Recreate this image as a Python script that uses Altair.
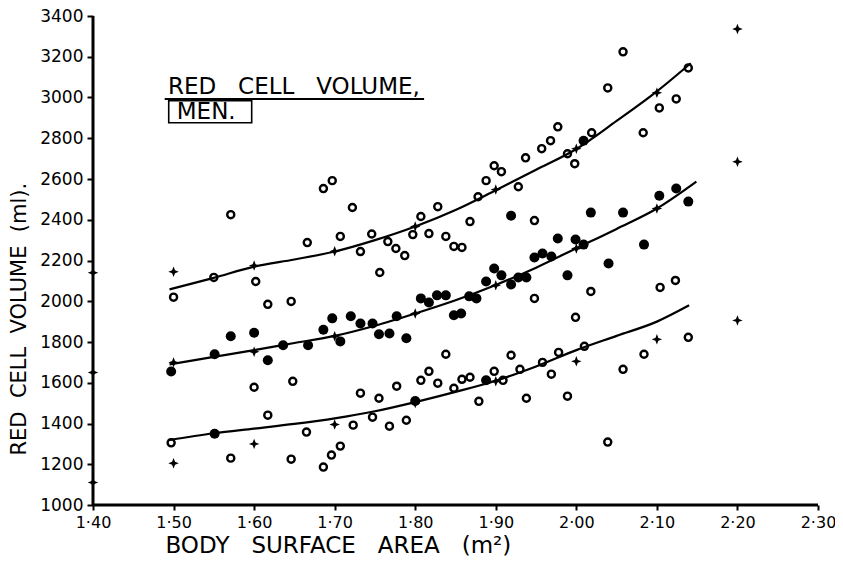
import altair as alt
import pandas as pd

# ---- data ----
open_x = [1.50, 1.55, 1.571, 1.602, 1.617, 1.646, 1.666, 1.686, 1.697, 1.707, 1.722, 1.732,
          1.746, 1.756, 1.766, 1.776, 1.787, 1.797, 1.807, 1.817, 1.828, 1.838, 1.848, 1.858,
          1.868, 1.878, 1.888, 1.898, 1.907, 1.928, 1.937, 1.948, 1.957, 1.968, 1.977, 1.989,
          1.998, 2.019, 2.039, 2.058, 2.083, 2.103, 2.124, 2.139, 1.948, 1.999, 2.018, 2.104,
          2.123,
          1.497, 1.600, 1.617, 1.648, 1.571, 1.646, 1.665, 1.686, 1.696, 1.707, 1.723, 1.747,
          1.732, 1.755, 1.768, 1.777, 1.789, 1.807, 1.817, 1.828, 1.838, 1.848, 1.858, 1.868,
          1.879, 1.898, 1.909, 1.919, 1.930, 1.938, 1.958, 1.969, 1.978, 1.989, 2.010, 2.039,
          2.058, 2.084, 2.139]
open_y = [2020, 2117, 2425, 2097, 1985, 1999, 2288, 2553, 2592, 2318, 2460, 2244,
          2330, 2141, 2293, 2259, 2224, 2327, 2416, 2332, 2464, 2318, 2269, 2264,
          2391, 2513, 2592, 2665, 2636, 2562, 2704, 2396, 2749, 2788, 2856, 2724,
          2675, 2827, 3047, 3224, 2827, 2949, 2993, 3145, 2014, 1921, 2048, 2068,
          2102,
          1305, 1578, 1441, 1607, 1230, 1225, 1358, 1186, 1245, 1289, 1392, 1431,
          1549, 1524, 1387, 1583, 1416, 1612, 1656, 1598, 1740, 1573, 1617, 1627,
          1509, 1656, 1612, 1735, 1666, 1524, 1700, 1642, 1749, 1534, 1779, 1309,
          1666, 1740, 1823]

filled_x = [1.497, 1.551, 1.571, 1.600, 1.617, 1.636, 1.667, 1.686, 1.697, 1.707, 1.720, 1.732,
            1.747, 1.755, 1.768, 1.777, 1.789, 1.807, 1.817, 1.827, 1.838, 1.848, 1.857, 1.867,
            1.876, 1.888, 1.898, 1.907, 1.919, 1.928, 1.938, 1.919, 1.948, 1.958, 1.969, 1.977,
            1.989, 1.999, 2.009, 2.018, 2.009, 2.040, 2.058, 2.084, 2.103, 2.124, 2.139,
            1.551, 1.800, 1.888]
filled_y = [1655, 1740, 1828, 1845, 1710, 1784, 1784, 1860, 1916, 1803, 1926, 1891,
            1891, 1838, 1842, 1926, 1818, 2014, 1994, 2029, 2029, 1931, 1940, 2024,
            2014, 2097, 2161, 2127, 2082, 2117, 2117, 2420, 2215, 2234, 2220, 2308,
            2127, 2303, 2278, 2435, 2788, 2185, 2435, 2278, 2518, 2553, 2489,
            1350, 1510, 1612]

cross_x = [1.40, 1.40, 1.40,
           1.50, 1.60, 1.70, 1.80, 1.90, 2.00, 2.10, 2.20,
           1.50, 1.60, 1.70, 1.80, 1.90, 2.00, 2.10, 2.20,
           1.50, 1.60, 1.70, 1.80, 1.90, 2.00, 2.10, 2.20]
cross_y = [2140, 1650, 1110,
           2145, 2175, 2245, 2367, 2548, 2749, 3023, 3336,
           1700, 1752, 1828, 1940, 2078, 2259, 2455, 2685,
           1205, 1300, 1395, 1500, 1607, 1705, 1813, 1906]

upper_x = [1.495, 1.55, 1.60, 1.65, 1.70, 1.75, 1.80, 1.85, 1.90, 1.95, 2.00, 2.05, 2.10, 2.142]
upper_y = [2058, 2115, 2170, 2205, 2244, 2300, 2367, 2448, 2545, 2645, 2747, 2885, 3030, 3168]
middle_x = [1.495, 1.55, 1.60, 1.65, 1.70, 1.75, 1.80, 1.85, 1.90, 1.95, 2.00, 2.05, 2.10, 2.149]
middle_y = [1690, 1727, 1760, 1795, 1830, 1880, 1940, 2005, 2080, 2165, 2260, 2355, 2455, 2587]
lower_x = [1.493, 1.55, 1.60, 1.65, 1.70, 1.75, 1.80, 1.85, 1.90, 1.95, 2.00, 2.05, 2.10, 2.140]
lower_y = [1318, 1352, 1375, 1398, 1425, 1460, 1505, 1555, 1610, 1680, 1760, 1830, 1900, 1980]

x_range = [1.4, 2.3]
y_range = [1000, 3400]
x_ticks = [1.4, 1.5, 1.6, 1.7, 1.8, 1.9, 2.0, 2.1, 2.2, 2.3]
y_ticks = [1000, 1200, 1400, 1600, 1800, 2000, 2200, 2400, 2600, 2800, 3000, 3200, 3400]

NB = "\u00a0"
x_title = (NB * 3).join(["BODY", "SURFACE", "AREA", "(m²)"])
y_title = (NB * 2).join(["RED", "CELL", "VOLUME", "(ml)."])
label_title = (NB * 3).join(["RED", "CELL", "VOLUME,"])
label_men = "MEN."

# ---- tables ----
open_df = pd.DataFrame({"x": open_x, "y": open_y})
filled_df = pd.DataFrame({"x": filled_x, "y": filled_y})
cross_df = pd.DataFrame({"x": cross_x, "y": cross_y})
curve_df = pd.concat([
    pd.DataFrame({"x": upper_x, "y": upper_y, "curve": "upper"}),
    pd.DataFrame({"x": middle_x, "y": middle_y, "curve": "middle"}),
    pd.DataFrame({"x": lower_x, "y": lower_y, "curve": "lower"}),
])
yaxis_df = pd.DataFrame({"x": [x_range[0]], "y": [y_range[0]], "y2": [y_range[1]]})
xaxis_df = pd.DataFrame({"x": [x_range[0]], "x2": [x_range[1]], "y": [y_range[0]]})

FONT = "DejaVu Sans"

X = alt.X("x:Q",
          scale=alt.Scale(domain=x_range, nice=False, zero=False),
          axis=alt.Axis(values=x_ticks, grid=False, domain=False, labelFlush=False,
                        labelExpr="replace(format(datum.value, '.2f'), '.', '·')",
                        labelFont=FONT, labelFontSize=16, labelColor="black", labelPadding=4,
                        tickColor="black", tickWidth=2, tickSize=5,
                        title=x_title, titleFont=FONT, titleFontSize=23,
                        titleFontWeight="normal", titleColor="black",
                        titleAlign="left", titleBaseline="alphabetic",
                        titleX=72, titleY=47))
Y = alt.Y("y:Q",
          scale=alt.Scale(domain=y_range, nice=False, zero=False),
          axis=alt.Axis(values=y_ticks, grid=False, format="d", domain=False, labelFlush=False,
                        labelFont=FONT, labelFontSize=17, labelColor="black", labelPadding=4,
                        tickColor="black", tickWidth=2, tickSize=6,
                        title=y_title, titleFont=FONT, titleFontSize=21,
                        titleFontWeight="normal", titleColor="black",
                        titleAngle=-90, titleAlign="left", titleBaseline="alphabetic",
                        titleX=-68, titleY=439))

yline = alt.Chart(yaxis_df).mark_rule(color="black", strokeWidth=3).encode(
    x=X, y=Y, y2="y2:Q")
xline = alt.Chart(xaxis_df).mark_rule(color="black", strokeWidth=3).encode(
    x=X, x2="x2:Q", y=Y)

lines = alt.Chart(curve_df).mark_line(color="black", strokeWidth=2.2,
                                      interpolate="monotone").encode(
    x=X, y=Y, detail="curve:N", order="x:Q")

opens = alt.Chart(open_df).mark_point(shape="circle", filled=False, stroke="black",
                                      strokeWidth=2.4, size=50, opacity=1).encode(x=X, y=Y)

filleds = alt.Chart(filled_df).mark_point(shape="circle", filled=True, color="black",
                                          size=100, opacity=1).encode(x=X, y=Y)

star = "M0,-1L0.28,-0.28L1,0L0.28,0.28L0,1L-0.28,0.28L-1,0L-0.28,-0.28Z"
crosses = alt.Chart(cross_df).mark_point(shape=star, filled=True, color="black",
                                         size=110, opacity=1).encode(x=X, y=Y)

# ---- annotation: title label ----
ann_text = pd.DataFrame({"x": [1.493], "y": [3018], "t": [label_title]})
ann_men = pd.DataFrame({"x": [1.504], "y": [2893], "t": [label_men]})
ann_line = pd.DataFrame({"x": [1.489], "x2": [1.811], "y": [2993]})
ann_box = pd.DataFrame({"x": [1.494], "x2": [1.597], "y": [2984], "y2": [2876]})

t1 = alt.Chart(ann_text).mark_text(font=FONT, fontSize=23, align="left",
                                   baseline="alphabetic", color="black").encode(
    x=X, y=Y, text="t:N")
t2 = alt.Chart(ann_men).mark_text(font=FONT, fontSize=23, align="left",
                                  baseline="alphabetic", color="black").encode(
    x=X, y=Y, text="t:N")
ul = alt.Chart(ann_line).mark_rule(color="black", strokeWidth=2).encode(
    x=X, x2="x2:Q", y=Y)
box = alt.Chart(ann_box).mark_rect(fill="transparent", stroke="black",
                                   strokeWidth=1.6).encode(x=X, x2="x2:Q", y=Y, y2="y2:Q")

chart = alt.layer(yline, xline, lines, opens, filleds, crosses, ul, box, t1, t2).properties(
    width=725, height=489,
    autosize=alt.AutoSizeParams(type="none"),
    padding={"left": 85, "top": 8, "right": 17, "bottom": 51},
    background="white",
).configure_view(stroke=None)

chart.save("out.html", embed_options={"renderer": "svg", "actions": False})
